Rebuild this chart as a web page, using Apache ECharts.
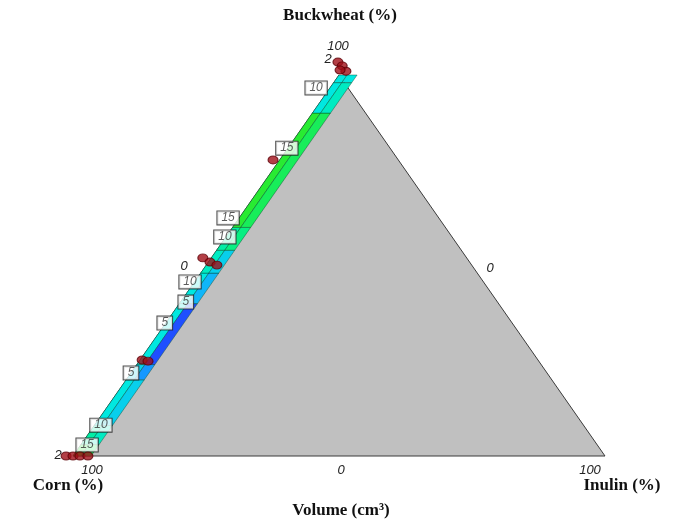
<!DOCTYPE html>
<html lang="en">
<head>
    <meta charset="UTF-8">
    <title>Volume ternary</title>
    <script src="https://cdn.jsdelivr.net/npm/echarts@6/dist/echarts.min.js"></script>
    <style>
        html, body { margin: 0; background: #fff; }
        #chart { width: 683px; height: 528px; }
    </style>
</head>
<body>
<div id="chart"></div>
<script>
    // simplex corners as [buckwheat %, inulin %] : corn, inulin, buckwheat
    const cornerBuck = [0, 0, 100];
    const cornerInul = [0, 100, 0];

    // contour band along the corn-buckwheat edge (buckwheat % ranges, volume levels)
    const bandFrom  = [0, 3, 8, 20, 24, 40, 48, 54, 60, 90, 98];
    const bandTo    = [3, 8, 20, 24, 40, 48, 54, 60, 90, 98, 100];
    const bandOuter = [15, 12, 10, 9, 10, 10, 11, 12, 15, 10, 10];
    const bandInner = [14, 11, 9, 7, 5, 8, 9, 13, 14, 11, 10];
    const bandWidth = 3.4; // inulin %

    // contour level labels
    const labelBuck = [2.9, 8.1, 21.8, 34.9, 40.4, 45.7, 57.5, 62.5, 80.8, 96.6];
    const labelInul = [1.2, 1.2, 0, -0.2, 1.0, -0.85, -0.2, -2.1, -0.2, -2.6];
    const labelVal  = [15, 10, 5, 5, 5, 10, 10, 15, 15, 10];

    // design points
    const dotBuck = [0, 0, 0, 0, 25.2, 24.9, 52, 50.9, 50.1, 77.7, 103.4, 102.4, 101, 101.3];
    const dotInul = [-1.3, 0, 1.3, 2.8, 0.4, 1.65, -1.6, 0.3, 2.0, -1.25, -1.9, -0.6, 0.8, -0.45];

    // ternary -> plane
    function toXY(b, i) { return [i + b / 2, b]; }

    const palette = [[31, 79, 255], [20, 170, 255], [0, 232, 224], [0, 240, 150], [40, 235, 50]];
    function volColor(v) {
        let t = Math.max(0, Math.min(1, (v - 5) / 10)) * (palette.length - 1);
        let k = Math.min(Math.floor(t), palette.length - 2), f = t - k;
        let c = palette[k].map((a, j) => Math.round(a + (palette[k + 1][j] - a) * f));
        return 'rgb(' + c.join(',') + ')';
    }

    const chart = echarts.init(document.getElementById('chart'));

    const italic = { fontStyle: 'italic', fontFamily: 'Liberation Sans', fontSize: 13, fill: '#222' };
    const heading = { fontWeight: 'bold', fontFamily: 'Liberation Serif', fontSize: 17, fill: '#111' };
    function txt(x, y, text, style) {
        return { type: 'text', x: x, y: y, style: Object.assign({ text: text, align: 'center', verticalAlign: 'middle' }, style) };
    }

    const option = {
        animation: false,
        grid: { left: 73, right: 78, top: 75, bottom: 72 },
        xAxis: { type: 'value', min: 0, max: 100, show: false },
        yAxis: { type: 'value', min: 0, max: 100, show: false },
        graphic: [
            txt(340, 16, 'Buckwheat (%)', heading),
            txt(338, 46, '100', italic),
            txt(328, 59, '2', italic),
            txt(58, 455, '2', italic),
            txt(184, 266, '0', italic),
            txt(490, 268, '0', italic),
            txt(92, 470, '100', italic),
            txt(341, 470, '0', italic),
            txt(590, 470, '100', italic),
            txt(68, 486, 'Corn (%)', heading),
            txt(622, 486, 'Inulin (%)', heading),
            txt(341, 511, 'Volume (cm³)', heading)
        ],
        series: [
            {
                type: 'custom',
                clip: false,
                z: 1,
                data: [0],
                renderItem: function (params, api) {
                    const pts = cornerBuck.map((b, k) => api.coord(toXY(b, cornerInul[k])));
                    return {
                        type: 'polygon',
                        shape: { points: pts },
                        style: { fill: '#c0c0c0', stroke: '#3a3a3a', lineWidth: 1 }
                    };
                }
            },
            {
                type: 'custom',
                clip: false,
                z: 2,
                data: bandFrom.map((b, k) => [b, bandTo[k], bandOuter[k], bandInner[k]]),
                renderItem: function (params, api) {
                    const b0 = api.value(0), b1 = api.value(1);
                    const mid = bandWidth * 0.45;
                    const quad = (i0, i1) => [toXY(b0, i0), toXY(b1, i0), toXY(b1, i1), toXY(b0, i1)].map(p => api.coord(p));
                    return {
                        type: 'group',
                        children: [
                            { type: 'polygon', shape: { points: quad(0, mid) },
                              style: { fill: volColor(api.value(2)), stroke: 'rgba(0,70,40,0.6)', lineWidth: 0.7 } },
                            { type: 'polygon', shape: { points: quad(mid, bandWidth) },
                              style: { fill: volColor(api.value(3)), stroke: 'rgba(0,70,40,0.6)', lineWidth: 0.7 } }
                        ]
                    };
                }
            },
            {
                type: 'scatter',
                clip: false,
                z: 3,
                symbolSize: 1,
                itemStyle: { color: 'rgba(0,0,0,0)' },
                silent: true,
                data: labelBuck.map((b, k) => toXY(b, labelInul[k]).concat(labelVal[k])),
                label: {
                    show: true,
                    position: 'inside',
                    formatter: p => String(p.value[2]),
                    backgroundColor: '#fff',
                    borderColor: '#222',
                    borderWidth: 1,
                    padding: [1, 4, 0, 4],
                    fontStyle: 'italic',
                    fontFamily: 'Liberation Sans',
                    fontSize: 12,
                    color: '#333'
                },
                labelLayout: { hideOverlap: false }
            },
            {
                type: 'scatter',
                clip: false,
                z: 4,
                symbol: 'circle',
                symbolSize: [10, 8],
                itemStyle: { color: '#a00f18', borderColor: '#5c0008', borderWidth: 1 },
                data: dotBuck.map((b, k) => toXY(b, dotInul[k]))
            }
        ]
    };

    chart.setOption(option);
</script>
</body>
</html>
